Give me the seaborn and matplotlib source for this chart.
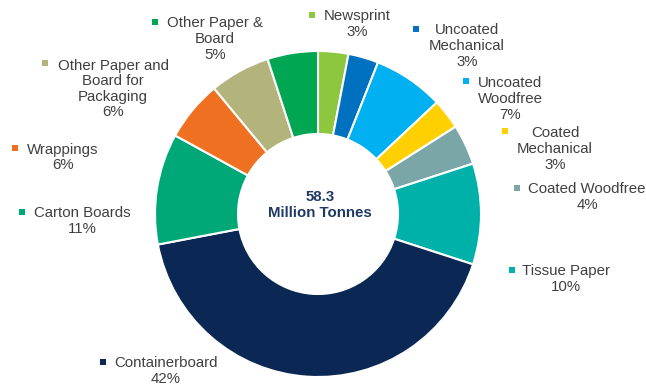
import matplotlib
matplotlib.use("Agg")
import matplotlib.pyplot as plt
import seaborn as sns

# ---- data ----
categories = ["Newsprint", "Uncoated Mechanical", "Uncoated Woodfree", "Coated Mechanical",
              "Coated Woodfree", "Tissue Paper", "Containerboard", "Carton Boards",
              "Wrappings", "Other Paper and Board for Packaging", "Other Paper & Board"]
shares = [3, 3, 7, 3, 4, 10, 42, 11, 6, 6, 5]
total_label = ["58.3", "Million Tonnes"]
colors = ["#8DC63F", "#0070C0", "#00B0F0", "#FFD000", "#7AA6A8", "#00B1A9",
          "#0B2855", "#00A878", "#F07022", "#B3B37C", "#00A651"]

# ---- layout (label block positions in pixels: centre x, first line y, last line y, marker x) ----
display_names = ["Newsprint", "Uncoated\nMechanical", "Uncoated\nWoodfree", "Coated\nMechanical",
                 "Coated Woodfree", "Tissue Paper", "Containerboard", "Carton Boards",
                 "Wrappings", "Other Paper and\nBoard for\nPackaging", "Other Paper &\nBoard"]
label_layout = [(357, 15, 33, 312), (467, 29, 63, 416), (510, 81, 117, 466), (555, 131, 167, 505),
                (587, 188, 206, 517), (566, 270, 288, 512), (166, 362, 380, 103), (82, 212, 230, 22),
                (63, 148, 167, 15), (113, 63, 115, 45), (215, 22, 56, 155)]

W, H = 646, 385
sns.set_theme(style="white")
plt.rcParams['font.family'] = ['Liberation Sans', 'DejaVu Sans']

fig = plt.figure(figsize=(W / 100, H / 100), dpi=100)
ax = fig.add_axes([0, 0, 1, 1])
ax.set_xlim(0, W)
ax.set_ylim(0, H)
ax.set_aspect('equal')
ax.axis('off')

def Y(y):
    return H - y

cx, cy, R = 318, 214, 163
ax.pie(shares, colors=colors, startangle=90, counterclock=False,
       center=(cx, Y(cy)), radius=R, frame=True,
       wedgeprops=dict(width=R - 80, edgecolor='white', linewidth=1.5))
ax.set_xlim(0, W)
ax.set_ylim(0, H)
ax.axis('off')

ax.text(cx + 2, Y(205), "\n".join(total_label), ha='center', va='center', fontsize=10.8,
        fontweight='bold', color='#1F3864', linespacing=1.15)

txt_color = '#404040'
for name, val, col, (tx, y0, y1, mx) in zip(display_names, shares, colors, label_layout):
    ax.text(tx, Y((y0 + y1) / 2), f"{name}\n{val:.0f}%", ha='center', va='center',
            multialignment='center', fontsize=10.8, color=txt_color, linespacing=1.15)
    ax.scatter([mx], [Y(y0)], marker='s', s=22, color=col, linewidths=0)

fig.savefig("out.png", dpi=100)
